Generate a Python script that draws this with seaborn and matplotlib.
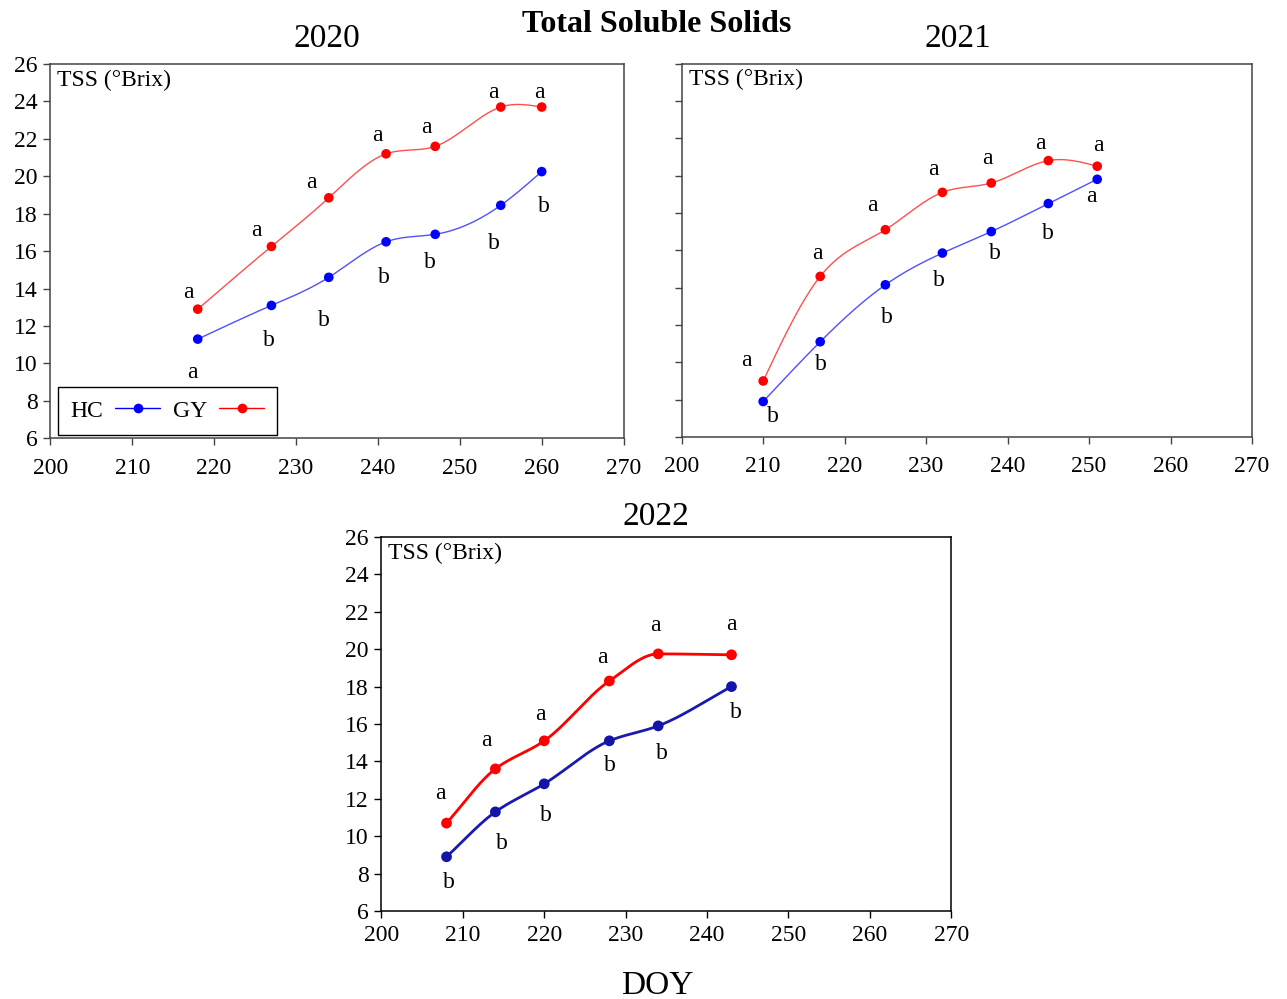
import numpy as np
import matplotlib
matplotlib.use("Agg")
import matplotlib.pyplot as plt
from matplotlib.lines import Line2D
import seaborn as sns

# ---------------- data ----------------
doy_2020 = [218, 227, 234, 241, 247, 255, 260]
hc_2020 = [11.3, 13.1, 14.6, 16.5, 16.9, 18.45, 20.25]
gy_2020 = [12.9, 16.25, 18.85, 21.2, 21.6, 23.7, 23.7]
hc_let_2020 = ["a", "b", "b", "b", "b", "b", "b"]
gy_let_2020 = ["a", "a", "a", "a", "a", "a", "a"]

doy_2021 = [210, 217, 225, 232, 238, 245, 251]
hc_2021 = [7.9, 11.1, 14.15, 15.85, 17.0, 18.5, 19.8]
gy_2021 = [9.0, 14.6, 17.1, 19.1, 19.6, 20.8, 20.5]
hc_let_2021 = ["b", "b", "b", "b", "b", "b", "a"]
gy_let_2021 = ["a", "a", "a", "a", "a", "a", "a"]

doy_2022 = [208, 214, 220, 228, 234, 243]
hc_2022 = [8.9, 11.3, 12.8, 15.1, 15.9, 18.0]
gy_2022 = [10.7, 13.6, 15.1, 18.3, 19.75, 19.7]
hc_let_2022 = ["b", "b", "b", "b", "b", "b"]
gy_let_2022 = ["a", "a", "a", "a", "a", "a"]

x_ticks = [200, 210, 220, 230, 240, 250, 260, 270]
y_ticks = [6, 8, 10, 12, 14, 16, 18, 20, 22, 24, 26]

# ---------------- style ----------------
sns.set_style("ticks")
plt.rcParams["font.family"] = ["Liberation Serif", "DejaVu Serif"]
for k in ["text.color", "axes.labelcolor", "xtick.labelcolor", "ytick.labelcolor"]:
    plt.rcParams[k] = "black"

# label offsets (data units) relative to each point
off = {
    "2020": {"gy": [(-1.1, 0.9), (-1.8, 0.85), (-2.1, 0.8), (-1.1, 1.0), (-1.1, 1.0), (-0.9, 0.8), (-0.3, 0.8)],
             "hc": [(-0.6, -1.8), (-0.3, -1.9), (-0.6, -2.3), (-0.3, -1.9), (-0.6, -1.5), (-0.8, -2.05), (0.3, -1.85)]},
    "2021": {"gy": [(-2.1, 1.1), (-0.4, 1.2), (-1.6, 1.3), (-1.1, 1.2), (-0.5, 1.3), (-1.0, 0.9), (0.1, 1.1)],
             "hc": [(1.2, -0.8), (0.1, -1.2), (0.2, -1.75), (-0.4, -1.45), (0.5, -1.2), (-0.1, -1.6), (-0.7, -0.9)]},
    "2022": {"gy": [(-0.8, 1.6), (-1.1, 1.5), (-0.5, 1.4), (-0.9, 1.25), (-0.3, 1.5), (0.0, 1.6)],
             "hc": [(0.3, -1.4), (0.8, -1.7), (0.2, -1.7), (0.1, -1.3), (0.4, -1.5), (0.5, -1.4)]},
}


def natural_spline(x, y, n=300):
    x = np.asarray(x, float)
    y = np.asarray(y, float)
    k = len(x)
    h = np.diff(x)
    A = np.zeros((k, k))
    r = np.zeros(k)
    A[0, 0] = 1
    A[-1, -1] = 1
    for i in range(1, k - 1):
        A[i, i - 1] = h[i - 1]
        A[i, i] = 2 * (h[i - 1] + h[i])
        A[i, i + 1] = h[i]
        r[i] = 6 * ((y[i + 1] - y[i]) / h[i] - (y[i] - y[i - 1]) / h[i - 1])
    M = np.linalg.solve(A, r)
    xs = np.linspace(x[0], x[-1], n)
    idx = np.clip(np.searchsorted(x, xs) - 1, 0, k - 2)
    x0, x1 = x[idx], x[idx + 1]
    hh = x1 - x0
    a = (x1 - xs) / hh
    b = (xs - x0) / hh
    ys = (a * y[idx] + b * y[idx + 1]
          + ((a ** 3 - a) * M[idx] + (b ** 3 - b) * M[idx + 1]) * hh ** 2 / 6)
    return xs, ys


def pchip(x, y, n=300):
    x = np.asarray(x, float)
    y = np.asarray(y, float)
    k = len(x)
    h = np.diff(x)
    d = np.diff(y) / h
    m = np.zeros(k)
    for i in range(1, k - 1):
        if d[i - 1] * d[i] > 0:
            w1 = 2 * h[i] + h[i - 1]
            w2 = h[i] + 2 * h[i - 1]
            m[i] = (w1 + w2) / (w1 / d[i - 1] + w2 / d[i])
    m[0] = d[0]
    m[-1] = d[-1]
    xs = np.linspace(x[0], x[-1], n)
    idx = np.clip(np.searchsorted(x, xs) - 1, 0, k - 2)
    hh = h[idx]
    t = (xs - x[idx]) / hh
    h00 = 2 * t ** 3 - 3 * t ** 2 + 1
    h10 = t ** 3 - 2 * t ** 2 + t
    h01 = -2 * t ** 3 + 3 * t ** 2
    h11 = t ** 3 - t ** 2
    ys = h00 * y[idx] + h10 * hh * m[idx] + h01 * y[idx + 1] + h11 * hh * m[idx + 1]
    return xs, ys


FS = 17
W, H = 1287, 999
fig = plt.figure(figsize=(W / 100, H / 100), dpi=100)


def axrect(l, t, r, b):
    return [l / W, 1 - b / H, (r - l) / W, (b - t) / H]


ax1 = fig.add_axes(axrect(50.3, 64, 623.6, 438.3))
ax2 = fig.add_axes(axrect(681.7, 63.5, 1252, 437))
ax3 = fig.add_axes(axrect(381.4, 537, 951.3, 911))

panels = [
    (ax1, "2020", doy_2020, hc_2020, gy_2020, hc_let_2020, gy_let_2020,
     dict(lw=1.0, hc_line="#5050ff", gy_line="#ff5050", hc_mk="#0000ff", gy_mk="#ff0000", ms=48,
          fn=natural_spline, xpad=9), True, "#444444"),
    (ax2, "2021", doy_2021, hc_2021, gy_2021, hc_let_2021, gy_let_2021,
     dict(lw=1.0, hc_line="#5050ff", gy_line="#ff5050", hc_mk="#0000ff", gy_mk="#ff0000", ms=48,
          fn=natural_spline, xpad=9), False, "#444444"),
    (ax3, "2022", doy_2022, hc_2022, gy_2022, hc_let_2022, gy_let_2022,
     dict(lw=2.0, hc_line="#1a1ab0", gy_line="#ff0000", hc_mk="#1414a8", gy_mk="#ff0000", ms=60,
          fn=pchip, xpad=5), True, "#000000"),
]

for ax, yr, doy, hc, gy, hcl, gyl, st, ylab, spc in panels:
    xs, ys = st["fn"](doy, hc)
    ax.plot(xs, ys, color=st["hc_line"], lw=st["lw"], zorder=2)
    xs, ys = st["fn"](doy, gy)
    ax.plot(xs, ys, color=st["gy_line"], lw=st["lw"], zorder=2)
    sns.scatterplot(x=doy, y=hc, color=st["hc_mk"], s=st["ms"], edgecolor="none", ax=ax, zorder=3)
    sns.scatterplot(x=doy, y=gy, color=st["gy_mk"], s=st["ms"], edgecolor="none", ax=ax, zorder=3)
    for i, d in enumerate(doy):
        dx, dy = off[yr]["gy"][i]
        ax.text(d + dx, gy[i] + dy, gyl[i], fontsize=FS, ha="center", va="center", color="black")
        dx, dy = off[yr]["hc"][i]
        ax.text(d + dx, hc[i] + dy, hcl[i], fontsize=FS, ha="center", va="center", color="black")
    ax.set_xlim(200, 270)
    ax.set_ylim(6, 26)
    ax.set_xticks(x_ticks)
    ax.set_yticks(y_ticks)
    ax.tick_params(axis="both", direction="out", length=5, width=1, labelsize=FS, color=spc,
                   labelcolor="black")
    ax.tick_params(axis="x", pad=st["xpad"])
    ax.tick_params(axis="y", pad=4)
    if not ylab:
        ax.set_yticklabels([])
    for s in ax.spines.values():
        s.set_visible(True)
        s.set_color(spc)
        s.set_linewidth(1.1)
    ax.text(0.012, 0.985, "TSS (°Brix)", transform=ax.transAxes, fontsize=FS, ha="left", va="top",
            color="black")
    ax.set_xlabel("")
    ax.set_ylabel("")

handles = [
    Line2D([], [], color="#0000ff", lw=1.0, marker="o", markersize=7, markeredgewidth=0),
    Line2D([], [], color="#ff0000", lw=1.0, marker="o", markersize=7, markeredgewidth=0),
]
leg = ax1.legend(handles, ["HC", "GY"], loc="lower left", bbox_to_anchor=(0.013, 0.01), ncol=2,
                 markerfirst=False, fontsize=FS, frameon=True, fancybox=False, framealpha=1,
                 edgecolor="black", handlelength=1.9, handletextpad=0.5, columnspacing=0.55,
                 borderpad=0.55, borderaxespad=0)
leg.get_frame().set_linewidth(1.0)
for t in leg.get_texts():
    t.set_color("black")

fig.text(657 / W, 1 - 25 / H, "Total Soluble Solids", fontsize=23, fontweight="bold", ha="center",
         va="center", color="black")
fig.text(327 / W, 1 - 39 / H, "2020", fontsize=24, ha="center", va="center", color="black")
fig.text(958 / W, 1 - 39 / H, "2021", fontsize=24, ha="center", va="center", color="black")
fig.text(656 / W, 1 - 517 / H, "2022", fontsize=24, ha="center", va="center", color="black")
fig.text(657 / W, 1 - 986 / H, "DOY", fontsize=24, ha="center", va="center", color="black")

fig.savefig("out.png", dpi=100)
